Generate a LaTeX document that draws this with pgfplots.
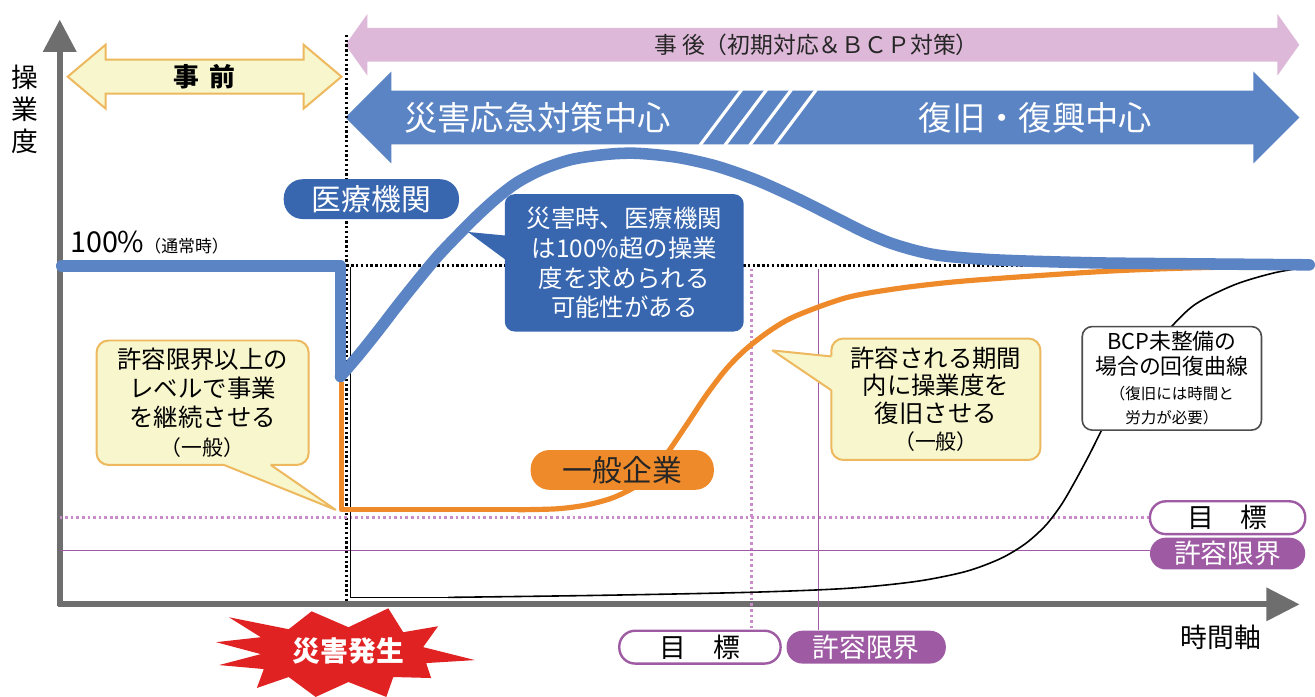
\documentclass[border=0pt]{standalone}
\usepackage{pgfplots}
\pgfplotsset{compat=1.18}
\usepackage{fontspec}
\setmainfont{Noto Sans CJK JP}
\newcommand\fs[2]{\fontsize{#1}{#2}\selectfont}

\definecolor{ablue}{HTML}{5B84C4}
\definecolor{pblue}{HTML}{3867B0}
\definecolor{orng}{HTML}{EF8A2A}
\definecolor{pinkar}{HTML}{DDB8D8}
\definecolor{purp}{HTML}{9E5BA3}
\definecolor{purpd}{HTML}{C98BC9}
\definecolor{ylw}{HTML}{F7F6CC}
\definecolor{ylwb}{HTML}{EDB85E}
\definecolor{axgray}{HTML}{6E6E6E}
\definecolor{burst}{HTML}{E02222}

\tikzset{
  dotb/.style={black, line width=1.4bp, dash pattern=on 1.2bp off 1.2bp},
  dotp/.style={purpd, line width=1.5bp, dash pattern=on 1.3bp off 1.5bp},
  pill/.style={rounded corners=8bp, inner sep=0pt, line width=1.2bp},
}

\begin{document}
\begin{tikzpicture}
\begin{axis}[
  x=0.5bp, y=0.5bp, y dir=reverse,
  xmin=0, xmax=1315, ymin=0, ymax=700,
  hide axis, clip=false, scale only axis,
]
\fill[white] (0,0) rectangle (1315,700);

% top arrows
\fill[pinkar] (347,45) -- (369,14) -- (369,28) -- (1283,28) -- (1283,14) -- (1305,45)
  -- (1283,76) -- (1283,62) -- (369,62) -- (369,76) -- cycle;
\node[font=\fs{11.5}{13}, text=black!85] at (820,45) {事 後（初期対応＆ＢＣＰ対策）};

\fill[ablue] (347,118) -- (393,72) -- (393,91) -- (1259,91) -- (1259,72) -- (1305,118)
  -- (1259,164) -- (1259,145) -- (393,145) -- (393,164) -- cycle;
\draw[white, line width=1.6bp] (703,146) -- (745,90);
\draw[white, line width=1.6bp] (728,146) -- (770,90);
\draw[white, line width=1.6bp] (753,146) -- (795,90);
\draw[white, line width=1.6bp] (778,146) -- (820,90);
\node[font=\fs{16.8}{18}, text=white] at (540,118) {災害応急対策中心};
\node[font=\fs{16.8}{18}, text=white] at (1040,118) {復旧・復興中心};

\filldraw[fill=ylw, draw=ylwb, line width=1bp] (68,77) -- (106,45) -- (106,60) -- (305,60)
  -- (305,45) -- (343,77) -- (305,109) -- (305,94) -- (106,94) -- (106,109) -- cycle;
\node[font=\bfseries\fs{13}{14}] at (205,77) {事\hspace{5bp}前};

% axes
\draw[axgray, line width=3bp] (60,609) -- (60,48);
\fill[axgray] (43,52) -- (60,20) -- (77,52) -- cycle;
\draw[axgray, line width=3bp] (58,607) -- (1275,607);
\fill[axgray] (1272,590) -- (1305,607) -- (1272,624) -- cycle;
\node[font=\fs{13.5}{16}, align=center] at (25,110) {操\\業\\度};
\node[font=\fs{13.5}{14}] at (1226,640) {時間軸};

% reference lines
\addplot[dotb] coordinates {(348,35) (348,605)};
\addplot[dotb] coordinates {(348,267) (1315,267)};
\addplot[dotp] coordinates {(60,520) (1155,520)};
\addplot[purp, line width=0.8bp] coordinates {(60,553) (1155,553)};
\addplot[dotp] coordinates {(755,270) (755,633)};
\addplot[purp, line width=0.8bp] coordinates {(822,270) (822,633)};

% BCP not prepared
\addplot[black, line width=0.8bp, line join=round] coordinates {(352,268) (352,600) (450,600)};
\addplot[black, line width=0.8bp, smooth] coordinates {
  (450,600) (600,598) (750,595) (850,591) (920,584) (970,574) (1005,561) (1030,546)
  (1050,528) (1066,507) (1080,483) (1095,455) (1110,425) (1127,393) (1147,362)
  (1172,333) (1200,306) (1240,286) (1280,274) (1315,268)};

% general company
\addplot[orng, line width=2.6bp, line join=round] coordinates {(343,384) (343,512) (520,512)};
\addplot[orng, line width=2.6bp, smooth] coordinates {
  (520,512) (560,511) (590,507) (618,499) (645,484) (668,458) (690,426) (710,396)
  (730,370) (750,350) (775,331) (800,317) (850,299) (900,290) (960,283)
  (1040,277) (1120,272) (1200,269) (1315,267)};

% medical institution
\addplot[ablue, line width=5.8bp, line join=round, line cap=round] coordinates {(62,267) (342,267) (342,378)};
\addplot[ablue, line width=5.8bp, line cap=round, smooth] coordinates {
  (342,378) (360,357) (380,332) (400,306) (420,281) (440,257) (460,236) (480,216)
  (500,198) (520,183) (545,170) (575,160) (610,155) (640,154) (680,158) (720,167)
  (760,181) (800,199) (840,219) (870,234) (900,246) (940,256) (1000,261)
  (1100,264) (1200,265) (1315,266)};

\node[anchor=base west, inner sep=0pt] at (70,254)
  {{\fs{14.5}{15}100\%}{\fs{8.5}{9}（通常時）}};

% labels on curves
\node[pill, fill=pblue, text=white, rounded corners=9.5bp, minimum width=88bp,
  minimum height=20bp, font=\fs{15}{16}] at (373,200) {医療機関};
\node[pill, fill=orng, text=black!85, rounded corners=9.5bp, minimum width=92bp,
  minimum height=20bp, font=\fs{15}{16}] at (625,472) {一般企業};

% blue callout
\fill[pblue] (512,237) -- (470,233) -- (512,264) -- cycle;
\node[fill=pblue, rounded corners=5bp, minimum width=120bp, minimum height=69bp,
  inner sep=0pt, text=white, align=center, font=\fs{12.3}{15}] at (627,264)
  {災害時、医療機関\\は100\%超の操業\\度を求められる\\可能性がある};

% yellow callout 1
\node[fill=ylw, draw=ylwb, line width=1bp, rounded corners=6bp, minimum width=106.5bp,
  minimum height=62.5bp, inner sep=0pt, align=center, font=\fs{12.3}{14.5}] at (203.5,404.5)
  {許容限界以上の\\レベルで事業\\を継続させる\\{\fs{10.5}{12}（一般）}};
\fill[ylw] (227,461) -- (225,467) -- (337,512) -- (272,467) -- (270,461) -- cycle;
\draw[ylwb, line width=1bp, line join=round] (225,467) -- (337,512) -- (272,467);

% yellow callout 2
\node[fill=ylw, draw=ylwb, line width=1bp, rounded corners=6bp, minimum width=105bp,
  minimum height=61bp, inner sep=0pt, align=center, font=\fs{12.3}{13.8}] at (940,401)
  {許容される期間\\内に操業度を\\復旧させる\\{\fs{10.5}{12}（一般）}};
\fill[ylw] (841,358) -- (835,358) -- (776,352) -- (835,392) -- (841,392) -- cycle;
\draw[ylwb, line width=1bp, line join=round] (835,358) -- (776,352) -- (835,392);

% BCP box
\node[fill=white, draw=black!70, line width=0.8bp, rounded corners=5bp, minimum width=90bp,
  minimum height=52bp, inner sep=0pt, align=center, font=\fs{11}{12.5}] at (1177,380)
  {BCP未整備の\\場合の回復曲線\\{\fs{7.8}{10}（復旧には時間と}\\{\fs{7.8}{10}労力が必要）}};

% target / limit pills
\node[pill, fill=white, draw=purp, minimum width=78bp, minimum height=16.5bp,
  font=\fs{13.5}{14}] at (1233,520) {目　標};
\node[pill, fill=purp, text=white, minimum width=78bp, minimum height=16bp,
  font=\fs{13.5}{14}] at (1233,556) {許容限界};
\node[pill, fill=white, draw=purp, minimum width=81bp, minimum height=16.5bp,
  font=\fs{13.5}{14}] at (703,650) {目　標};
\node[pill, fill=purp, text=white, minimum width=80bp, minimum height=16.5bp,
  font=\fs{13.5}{14}] at (870,650) {許容限界};

% disaster burst
\fill[burst] (217,645) -- (262,640) -- (230,620) -- (290,632) -- (313,614) -- (350,630)
  -- (390,611) -- (405,635) -- (440,629) -- (425,650) -- (477,663) -- (428,666)
  -- (433,681) -- (395,680) -- (388,700) -- (350,685) -- (317,700) -- (290,680)
  -- (258,691) -- (265,672) -- (220,668) -- (262,657) -- cycle;
\node[font=\bfseries\fs{14}{15}, text=white] at (350,654) {災害発生};

\end{axis}
\end{tikzpicture}
\end{document}
